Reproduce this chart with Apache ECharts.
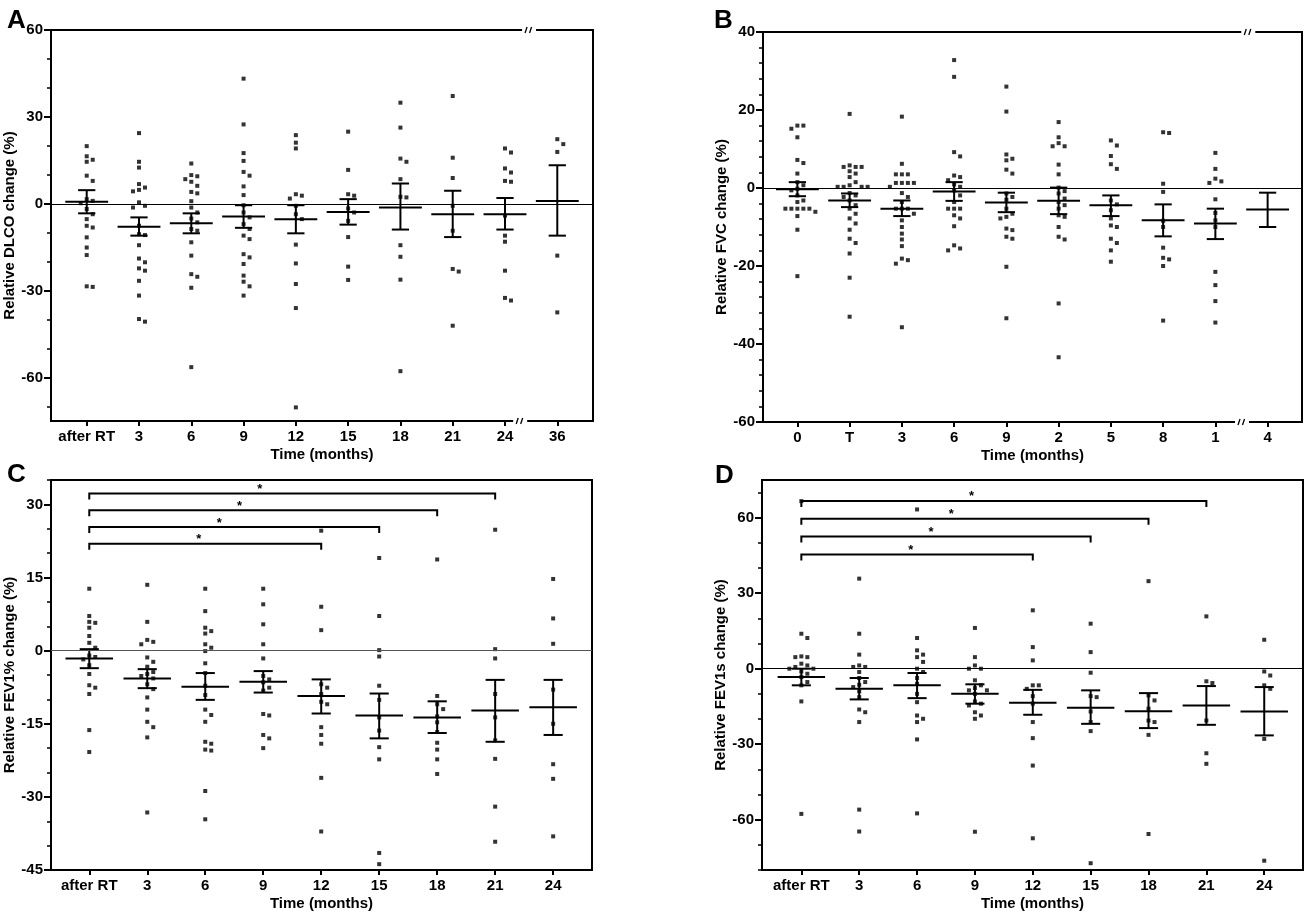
<!DOCTYPE html>
<html><head><meta charset="utf-8">
<script src="https://cdn.jsdelivr.net/npm/echarts@6/dist/echarts.min.js"></script>
<style>html,body{margin:0;padding:0;background:#fff}#c{width:1304px;height:913px}</style>
</head><body><div id="c"></div>
<script>
// ---------------- DATA ----------------
const catsA = ['after RT','3','6','9','12','15','18','21','24','36'];
const dotsA = [
  [19.9,16.4,15.2,14.5,9.7,7.9,1.6,1.0,0.2,-1.8,-3.6,-5.3,-7.6,-8.2,-11.6,-15.1,-17.7,-28.5,-28.7],
  [24.4,14.5,12.5,6.8,5.6,4.8,4.3,0.5,-0.7,-1.3,-7.6,-10.5,-10.8,-14.3,-18.9,-20.2,-22.3,-23.1,-26.6,-31.7,-39.8,-40.7],
  [13.9,9.9,9.5,8.5,7.6,6.2,4.1,3.6,0.9,-1.3,-3.0,-5.1,-6.4,-8.7,-9.3,-13.3,-17.9,-24.3,-25.2,-29.0,-56.4],
  [43.2,27.4,17.5,14.8,11.0,9.7,6.0,3.0,-0.5,-3.0,-4.7,-7.0,-8.7,-11.0,-12.2,-17.4,-18.5,-20.8,-24.8,-26.9,-28.5,-31.7],
  [23.7,21.1,19.1,3.3,2.8,1.8,-0.7,-3.6,-5.3,-14.1,-20.6,-27.7,-36.0,-70.3],
  [24.9,11.7,3.3,2.8,-1.6,-3.0,-5.9,-11.5,-21.7,-26.3],
  [34.9,26.3,15.6,14.5,8.5,2.4,2.2,-14.3,-18.3,-26.2,-57.8],
  [37.2,15.9,8.9,-0.7,-9.3,-22.5,-23.4,-42.1],
  [19.1,17.7,12.2,10.8,7.9,7.6,-4.1,-11.0,-13.1,-23.1,-32.5,-33.4],
  [22.3,20.6,17.9,-17.9,-37.5]
];
const meanA = [0.7,-7.9,-6.7,-4.4,-5.3,-2.8,-1.3,-3.6,-3.6,1.0];
const hiA   = [4.7,-4.7,-3.3,-0.5,-0.5,1.6,7.0,4.5,2.0,13.3];
const loA   = [-3.3,-11.0,-10.2,-8.3,-10.2,-7.2,-8.9,-11.5,-8.9,-11.0];
const yLabelsA = [-60,-30,0,30,60];

const catsB = ['0','T','3','6','9','2','5','8','1','4'];
const dotsB = [
  [16.0,16.0,15.2,13.0,7.2,6.4,3.7,1.5,0.7,-0.2,-0.6,-1.9,-3.2,-3.6,-5.3,-5.3,-5.3,-5.3,-5.3,-6.1,-7.2,-10.7,-22.6],
  [19.0,5.8,5.4,5.4,5.4,4.3,3.7,2.8,1.5,0.7,0.3,0.3,0.3,0.3,-1.3,-1.9,-2.3,-3.2,-4.4,-5.3,-6.6,-7.8,-9.1,-10.7,-13.0,-14.1,-16.8,-23.0,-33.0],
  [18.3,6.2,3.5,3.5,3.5,1.3,1.3,1.3,1.3,0.3,-1.3,-2.3,-3.6,-5.3,-5.3,-5.3,-6.6,-8.3,-10.0,-11.7,-13.2,-14.9,-18.1,-18.5,-19.4,-35.7],
  [32.8,28.5,9.2,8.1,3.2,2.8,2.0,0.9,0.3,-0.6,-1.9,-3.6,-5.3,-5.3,-5.3,-7.0,-7.8,-9.8,-14.7,-15.5,-16.0],
  [26.0,19.6,8.6,7.5,7.1,4.7,3.7,-1.4,-2.3,-3.0,-5.3,-6.6,-7.4,-7.8,-10.4,-10.8,-12.5,-13.0,-20.2,-33.4],
  [16.9,13.0,11.5,10.7,10.7,6.0,3.5,0.1,-0.8,-1.4,-2.7,-3.6,-4.4,-5.3,-7.0,-7.4,-10.0,-12.5,-13.2,-29.6,-43.4],
  [12.2,10.9,8.2,6.1,4.9,-3.2,-4.2,-5.7,-7.8,-9.6,-10.0,-13.0,-14.1,-16.0,-18.9],
  [14.3,14.1,1.1,-1.0,-8.4,-10.0,-15.3,-17.9,-18.3,-20.0,-34.0],
  [9.0,4.9,2.4,1.7,1.3,-2.9,-6.4,-8.3,-10.0,-21.5,-24.9,-29.0,-34.5],
  []
];
const meanB = [-0.3,-3.2,-5.3,-0.9,-3.7,-3.3,-4.4,-8.3,-9.1,-5.5];
const hiB   = [1.5,-1.4,-3.2,1.5,-1.2,0.1,-1.9,-4.2,-5.3,-1.2];
const loB   = [-2.1,-4.9,-7.2,-3.3,-6.2,-6.7,-7.2,-12.4,-13.1,-10.0];
const yLabelsB = [-60,-40,-20,0,20,40];

const catsC = ['after RT','3','6','9','12','15','18','21','24'];
const dotsC = [
  [12.7,7.1,5.9,5.7,4.7,3.0,1.6,0.6,-1.0,-1.3,-1.8,-3.0,-4.8,-7.1,-7.6,-8.9,-16.3,-20.8],
  [13.5,5.9,2.2,1.8,1.3,-1.4,-2.3,-3.3,-4.4,-4.8,-5.2,-5.7,-6.9,-7.9,-9.6,-12.1,-14.6,-15.7,-17.8,-33.2],
  [12.7,8.1,4.7,4.0,3.5,1.3,0.6,-0.1,-2.6,-4.6,-7.2,-9.1,-12.1,-13.2,-14.6,-18.7,-19.1,-20.3,-20.5,-28.8,-34.6],
  [12.7,9.5,5.4,1.3,-1.6,-5.2,-5.9,-6.5,-7.6,-8.2,-13.0,-13.3,-17.3,-18.0,-20.0],
  [24.6,9.0,4.2,-6.9,-7.6,-8.9,-10.5,-11.0,-15.7,-17.3,-19.1,-26.1,-37.1],
  [19.0,7.1,0.1,-1.2,-7.2,-10.1,-13.7,-16.4,-19.8,-22.3,-41.5,-43.8],
  [18.7,-9.3,-11.0,-12.0,-13.5,-14.7,-16.7,-18.9,-20.3,-22.3,-25.3],
  [24.8,0.3,-1.6,-8.9,-13.7,-18.4,-22.2,-32.0,-39.2],
  [14.7,6.6,1.4,-8.0,-15.0,-23.3,-26.3,-38.1]
];
const meanC = [-1.6,-5.7,-7.4,-6.4,-9.3,-13.3,-13.7,-12.3,-11.6];
const hiC   = [0.3,-3.8,-4.6,-4.2,-5.9,-8.8,-10.4,-6.0,-6.0];
const loC   = [-3.6,-7.7,-10.1,-8.6,-12.9,-18.0,-16.9,-18.7,-17.3];
const yLabelsC = [-45,-30,-15,0,15,30];
const sigC = [[0,4],[0,5],[0,6],[0,7]];

const catsD = ['after RT','3','6','9','12','15','18','21','24'];
const dotsD = [
  [66.6,13.9,12.2,4.9,4.6,4.6,2.0,1.3,0.7,0.0,0.0,-1.1,-2.0,-3.3,-5.3,-6.6,-13.0,-57.7],
  [35.8,13.9,5.6,1.3,0.7,0.7,-1.3,-3.7,-5.3,-6.4,-7.3,-9.0,-11.3,-16.2,-17.3,-21.2,-56.0,-64.7],
  [63.3,12.2,7.3,5.6,4.6,2.7,0.0,-1.3,-3.7,-6.0,-10.0,-13.3,-18.6,-19.9,-21.2,-28.1,-57.5],
  [16.2,4.6,1.3,0.0,0.0,-4.6,-6.6,-7.7,-8.6,-8.6,-10.0,-13.0,-13.9,-14.6,-17.3,-18.6,-19.9,-64.8],
  [23.2,8.6,3.3,-6.6,-6.6,-8.0,-10.9,-13.9,-21.2,-27.6,-38.5,-67.4],
  [17.9,6.6,-1.6,-10.9,-11.3,-17.0,-21.2,-24.8,-77.3],
  [34.8,-10.6,-12.6,-15.9,-20.6,-21.2,-26.3,-65.7],
  [20.8,-5.0,-5.7,-20.6,-33.6,-37.8],
  [11.5,-1.1,-2.7,-6.6,-8.0,-27.9,-76.3]
];
const meanD = [-3.3,-8.0,-6.6,-10.0,-13.5,-15.5,-16.9,-14.6,-17.0];
const hiD   = [0.0,-3.7,-1.7,-6.2,-8.4,-8.6,-9.7,-6.9,-7.3];
const loD   = [-6.6,-12.2,-11.7,-13.9,-18.3,-21.9,-23.6,-22.3,-26.5];
const yLabelsD = [-60,-30,0,30,60];
const sigD = [[0,4],[0,5],[0,6],[0,7]];

// ---------------- LAYOUT ----------------
function range(a,b,s){const r=[];for(let v=a;v<=b+1e-9;v+=s)r.push(+v.toFixed(6));return r;}
const FONT = 'Liberation Sans, Arial, sans-serif';
const panels = [
  {letter:'A', lpos:[2,3], cats:catsA, dots:dotsA, mean:meanA, hi:hiA, lo:loA, yName:'Relative DLCO change (%)',
   grid:{left:51,top:30,width:542,height:391}, x:[-0.683,9.683], y:[-75,60], yLabels:yLabelsA, yTicks:range(-70,60,10),
   zero:'#000', breaks:[[8.46,'top'],[8.29,'bottom']]},
  {letter:'B', lpos:[709,3], cats:catsB, dots:dotsB, mean:meanB, hi:hiB, lo:loB, yName:'Relative FVC change (%)',
   grid:{left:763,top:32,width:539,height:390}, x:[-0.658,9.658], y:[-60,40], yLabels:yLabelsB, yTicks:range(-60,40,4),
   zero:'#000', breaks:[[8.63,'top'],[8.51,'bottom']]},
  {letter:'C', lpos:[2,457], cats:catsC, dots:dotsC, mean:meanC, hi:hiC, lo:loC, yName:'Relative FEV1% change (%)',
   grid:{left:51,top:480,width:541,height:390}, x:[-0.66,8.67], y:[-45,35], yLabels:yLabelsC, yTicks:range(-45,35,5),
   zero:'#555', sig:sigC, sigBase:21.9, sigStep:3.45},
  {letter:'D', lpos:[710,458], cats:catsD, dots:dotsD, mean:meanD, hi:hiD, lo:loD, yName:'Relative FEV1s change (%)',
   grid:{left:762,top:480,width:541,height:390}, x:[-0.68,8.67], y:[-80,75], yLabels:yLabelsD, yTicks:range(-80,70,10),
   zero:'#000', sig:sigD, sigBase:45.4, sigStep:7.1}
];

function swarm(vals, pxY, step, thr){
  const idx = vals.map((v,i)=>i).sort((a,b)=>vals[b]-vals[a]);
  const placed=[], off=new Array(vals.length).fill(0);
  for(const i of idx){
    const y = vals[i]*pxY; let pos = 0;
    for(let t=0;t<60;t++){
      const cand = t===0?0:((t%2)?1:-1)*Math.ceil(t/2)*step;
      if(placed.every(p=>Math.hypot(p.x-cand,p.y-y)>=thr)){pos=cand;break;}
    }
    placed.push({x:pos,y}); off[i]=pos;
  }
  return off;
}

const MW = 0.41, CW = 0.165;
function L(a,b,w){return {type:'line',shape:{x1:a[0],y1:a[1],x2:b[0],y2:b[1]},style:{stroke:'#000',lineWidth:w||2}};}
function errRender(params, api){
  const x=api.value(0), m=api.value(1), lo=api.value(2), hi=api.value(3);
  return {type:'group', children:[
    L(api.coord([x-MW,m]),api.coord([x+MW,m])),
    L(api.coord([x,lo]),api.coord([x,hi])),
    L(api.coord([x-CW,lo]),api.coord([x+CW,lo])),
    L(api.coord([x-CW,hi]),api.coord([x+CW,hi]))
  ]};
}
function breakRender(params, api){
  const c = api.coord([api.value(0), api.value(1)]);
  return {type:'group', children:[
    {type:'rect', shape:{x:c[0]-7,y:c[1]-3,width:14,height:6}, style:{fill:'#fff'}},
    L([c[0]-4,c[1]+3],[c[0]-2,c[1]-3],1.3),
    L([c[0]+0.5,c[1]+3],[c[0]+2.5,c[1]-3],1.3)
  ]};
}
function sigRender(params, api){
  const x0=api.value(0), x1=api.value(1), y=api.value(2), sx=api.value(3);
  const a=api.coord([x0,y]), b=api.coord([x1,y]), s=api.coord([sx,y]);
  return {type:'group', children:[
    {type:'polyline', shape:{points:[[a[0],a[1]+6],[a[0],a[1]],[b[0],b[1]],[b[0],b[1]+6]]}, style:{stroke:'#000',lineWidth:2,fill:null}},
    {type:'text', style:{text:'*', x:s[0], y:s[1]-4, align:'center', verticalAlign:'middle', textAlign:'center', textVerticalAlign:'middle', font:'bold 13px '+FONT, fill:'#000'}}
  ]};
}

const option = {animation:false, backgroundColor:'#fff', title:[], grid:[], xAxis:[], yAxis:[], series:[]};
const lab = {color:'#000', fontSize:15, fontWeight:'bold', fontFamily:FONT};
panels.forEach((p,k)=>{
  option.title.push({text:p.letter, left:p.lpos[0], top:p.lpos[1], textStyle:{fontSize:26, fontWeight:'bold', color:'#000', fontFamily:FONT}});
  option.grid.push(Object.assign({show:true, borderColor:'#000', borderWidth:2, backgroundColor:'transparent', containLabel:false, outerBoundsMode:'none'}, p.grid));
  const xIdx = p.cats.map((c,i)=>i);
  option.xAxis.push({type:'value', gridIndex:k, position:'bottom', min:p.x[0], max:p.x[1], name:'Time (months)', nameLocation:'middle', nameGap:26,
    nameTextStyle:lab,
    axisLine:{show:true, onZero:false, lineStyle:{color:'#000', width:2}},
    axisTick:{show:true, length:5, customValues:xIdx, lineStyle:{color:'#000', width:2}},
    axisLabel:Object.assign({customValues:xIdx, margin:8, formatter:v=>p.cats[Math.round(v)]}, lab),
    splitLine:{show:false}});
  option.yAxis.push({type:'value', gridIndex:k, position:'left', min:p.y[0], max:p.y[1], name:p.yName, nameLocation:'middle', nameGap:34,
    nameTextStyle:lab,
    axisLine:{show:true, onZero:false, lineStyle:{color:'#000', width:2}},
    axisTick:{show:true, length:7, customValues:p.yLabels, lineStyle:{color:'#000', width:2}},
    axisLabel:Object.assign({customValues:p.yLabels, margin:8}, lab),
    splitLine:{show:false}});
  option.yAxis.push({type:'value', gridIndex:k, position:'left', offset:0, min:p.y[0], max:p.y[1],
    axisLine:{show:false, onZero:false}, axisLabel:{show:false}, splitLine:{show:false},
    axisTick:{show:true, length:4, customValues:p.yTicks, lineStyle:{color:'#000', width:1.5}}});
  const pxX = p.grid.width/(p.x[1]-p.x[0]);
  const pxY = p.grid.height/(p.y[1]-p.y[0]);
  const pts = [];
  p.dots.forEach((vals,i)=>{
    const off = swarm(vals, pxY, 6, 5.5);
    vals.forEach((v,j)=>pts.push([i+off[j]/pxX, v]));
  });
  option.series.push({type:'scatter', xAxisIndex:k, yAxisIndex:2*k, data:pts, symbol:'rect', symbolSize:4,
    itemStyle:{color:'#000'}, silent:true, z:3,
    markLine:{silent:true, symbol:['none','none'], label:{show:false}, animation:false,
      lineStyle:{color:p.zero, width:1.2, type:'solid'}, data:[{yAxis:0}]}});
  option.series.push({type:'custom', xAxisIndex:k, yAxisIndex:2*k, renderItem:errRender, silent:true, z:4,
    encode:{x:0,y:1}, data:p.mean.map((m,i)=>[i,m,p.lo[i],p.hi[i]])});
  if(p.breaks){
    option.series.push({type:'custom', xAxisIndex:k, yAxisIndex:2*k, renderItem:breakRender, silent:true, z:5, clip:false,
      encode:{x:0,y:1}, data:p.breaks.map(b=>[b[0], b[1]==='top'?p.y[1]:p.y[0]])});
  }
  if(p.sig){
    option.series.push({type:'custom', xAxisIndex:k, yAxisIndex:2*k, renderItem:sigRender, silent:true, z:5, clip:false,
      encode:{x:0,y:2}, data:p.sig.map((s,j)=>[s[0], s[1], p.sigBase+j*p.sigStep, 1.89+0.35*j])});
  }
});
const chart = echarts.init(document.getElementById('c'), null, {renderer:'canvas'});
chart.setOption(option);
</script></body></html>
